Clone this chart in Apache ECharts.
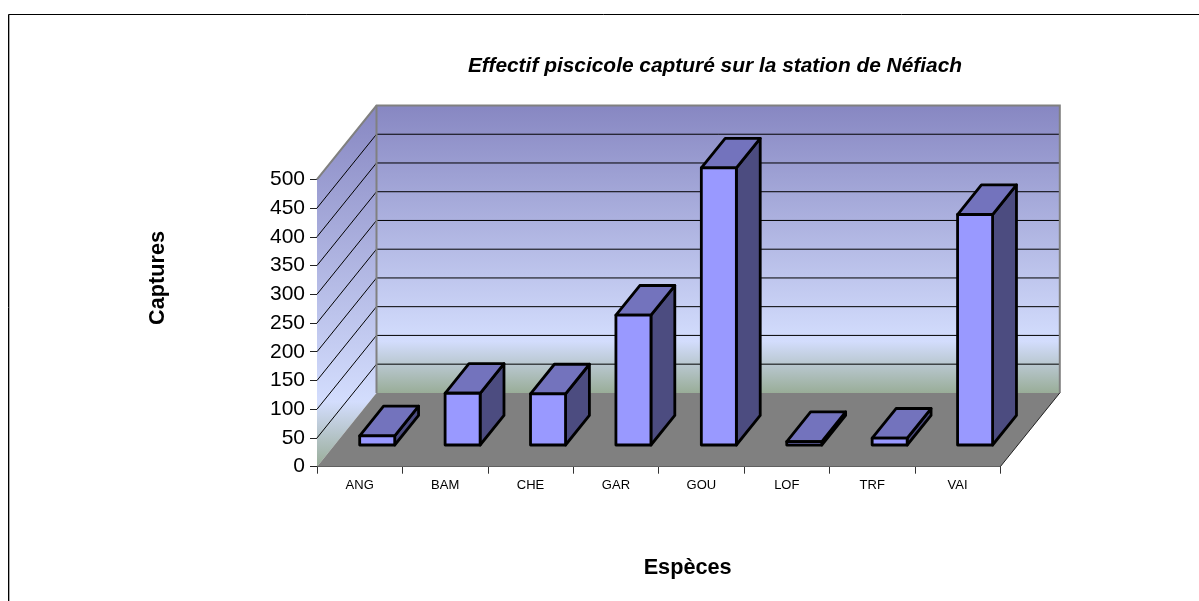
<!DOCTYPE html>
<html>
<head>
<meta charset="utf-8">
<style>html,body{margin:0;padding:0;background:#fff}#c{width:1199px;height:601px}</style>
<script src="https://cdn.jsdelivr.net/npm/echarts@6/dist/echarts.min.js"></script>
</head>
<body>
<div id="c"></div>
<script>
const categories = ['ANG', 'BAM', 'CHE', 'GAR', 'GOU', 'LOF', 'TRF', 'VAI'];
const captures = [16, 90, 89, 226, 482, 6, 12, 401];
const yTicks = [0, 50, 100, 150, 200, 250, 300, 350, 400, 450, 500];

const FONT = '"Liberation Sans", Arial, sans-serif';
const DEPTH_X = 59.5, DEPTH_Y = 73.8;      // oblique projection of the floor depth
const BAR_NEAR = 0.294, BAR_FAR = 0.695;   // bar position along the depth
const BAR_WIDTH = 0.41;                    // share of a category band

function wallGradient() {
  return new echarts.graphic.LinearGradient(0, 0, 0, 1, [
    { offset: 0, color: '#8787C2' },
    { offset: 0.82, color: '#D3DDFD' },
    { offset: 1, color: '#99AD98' }
  ]);
}

function renderWalls(params, api) {
  const cs = params.coordSys;
  const x0 = cs.x, x1 = cs.x + cs.width;
  const yBase = cs.y + cs.height, yTop = cs.y;
  const dx = DEPTH_X, dy = DEPTH_Y;
  const children = [
    { type: 'polygon', shape: { points: [[x0, yBase], [x0 + dx, yBase - dy], [x0 + dx, yTop - dy], [x0, yTop]] },
      style: { fill: wallGradient() } },
    { type: 'polygon', shape: { points: [[x0 + dx, yBase - dy], [x1 + dx, yBase - dy], [x1 + dx, yTop - dy], [x0 + dx, yTop - dy]] },
      style: { fill: wallGradient() } },
    { type: 'polygon', shape: { points: [[x0, yBase], [x1, yBase], [x1 + dx, yBase - dy], [x0 + dx, yBase - dy]] },
      style: { fill: '#808080' } }
  ];
  yTicks.forEach(function (t) {
    if (t === 0 || t === 500) return;
    const y = api.coord([0, t])[1];
    children.push({ type: 'polyline', shape: { points: [[x0, y], [x0 + dx, y - dy], [x1 + dx, y - dy]] },
      style: { fill: 'none', stroke: '#000', lineWidth: 1 } });
  });
  children.push(
    { type: 'polyline', shape: { points: [[x0, yTop], [x0 + dx, yTop - dy], [x1 + dx, yTop - dy], [x1 + dx, yBase - dy]] },
      style: { fill: 'none', stroke: '#808080', lineWidth: 2 } },
    { type: 'line', shape: { x1: x0 + dx, y1: yTop - dy, x2: x0 + dx, y2: yBase - dy },
      style: { stroke: '#808080', lineWidth: 2 } },
    { type: 'line', shape: { x1: x1, y1: yBase, x2: x1 + dx, y2: yBase - dy },
      style: { stroke: '#222', lineWidth: 1 } }
  );
  return { type: 'group', children: children };
}

function renderBar(params, api) {
  const c0 = api.coord([api.value(0), 0]);
  const c1 = api.coord([api.value(0), api.value(1)]);
  const w = api.size([1, 0])[0] * BAR_WIDTH;
  function p(side, top, depth) {
    return [c0[0] + side * w / 2 + depth * DEPTH_X, (top ? c1[1] : c0[1]) - depth * DEPTH_Y];
  }
  const n = BAR_NEAR, f = BAR_FAR;
  const line = { stroke: '#000', lineWidth: 2.8, lineJoin: 'round' };
  return { type: 'group', children: [
    { type: 'polygon', shape: { points: [p(1, 0, n), p(1, 0, f), p(1, 1, f), p(1, 1, n)] },
      style: Object.assign({ fill: '#4C4C80' }, line) },
    { type: 'polygon', shape: { points: [p(-1, 1, n), p(1, 1, n), p(1, 1, f), p(-1, 1, f)] },
      style: Object.assign({ fill: '#7373BD' }, line) },
    { type: 'polygon', shape: { points: [p(-1, 0, n), p(1, 0, n), p(1, 1, n), p(-1, 1, n)] },
      style: Object.assign({ fill: '#9999FF' }, line) }
  ] };
}

const chart = echarts.init(document.getElementById('c'), null, { renderer: 'canvas' });
chart.setOption({
  animation: false,
  backgroundColor: '#fff',
  title: {
    text: 'Effectif piscicole capturé sur la station de Néfiach',
    left: 710, top: 51, textAlign: 'center',
    textStyle: { fontFamily: FONT, fontSize: 20.9, fontWeight: 'bold', fontStyle: 'italic', color: '#000' }
  },
  graphic: [
    { type: 'polyline', z: 0, shape: { points: [[8.5, 601], [8.5, 14.5], [1199, 14.5]] }, style: { fill: 'none', stroke: '#000', lineWidth: 1 } },
    { type: 'line', z: 0, shape: { x1: 9.5, y1: 15, x2: 9.5, y2: 601 }, style: { stroke: '#aaa', lineWidth: 1 } }
  ],
  grid: { left: 317, top: 179.3, width: 683.3, height: 287.4, containLabel: false },
  xAxis: {
    type: 'category', data: categories,
    name: 'Espèces', nameLocation: 'middle', nameGap: 90,
    nameTextStyle: { fontFamily: FONT, fontSize: 21.7, fontWeight: 'bold', color: '#000', padding: [0, 0, 0, 58] },
    axisLine: { lineStyle: { color: '#000', width: 1 } },
    axisTick: { show: true, length: 7, lineStyle: { color: '#333', width: 1 } },
    axisLabel: { fontFamily: FONT, fontSize: 13, color: '#000', margin: 12, interval: 0 },
    splitLine: { show: false }
  },
  yAxis: {
    type: 'value', min: 0, max: 500, interval: 50,
    name: 'Captures', nameLocation: 'middle', nameRotate: 90, nameGap: 148,
    nameTextStyle: { fontFamily: FONT, fontSize: 21.7, fontWeight: 'bold', color: '#000', padding: [0, 0, 0, 90] },
    axisLine: { show: true, lineStyle: { color: '#222', width: 1 } },
    axisTick: { show: true, length: 7, lineStyle: { color: '#222', width: 1 } },
    axisLabel: { fontFamily: FONT, fontSize: 21, color: '#000', margin: 12 },
    splitLine: { show: false }
  },
  series: [
    { type: 'custom', name: 'Parois', silent: true, clip: false, z: 1, renderItem: renderWalls,
      data: [[0, 0]], encode: { x: 0, y: 1 } },
    { type: 'custom', name: 'Captures', clip: false, z: 3, renderItem: renderBar,
      data: captures.map(function (v, i) { return [i, v]; }), encode: { x: 0, y: 1 } }
  ]
});
</script>
</body>
</html>
